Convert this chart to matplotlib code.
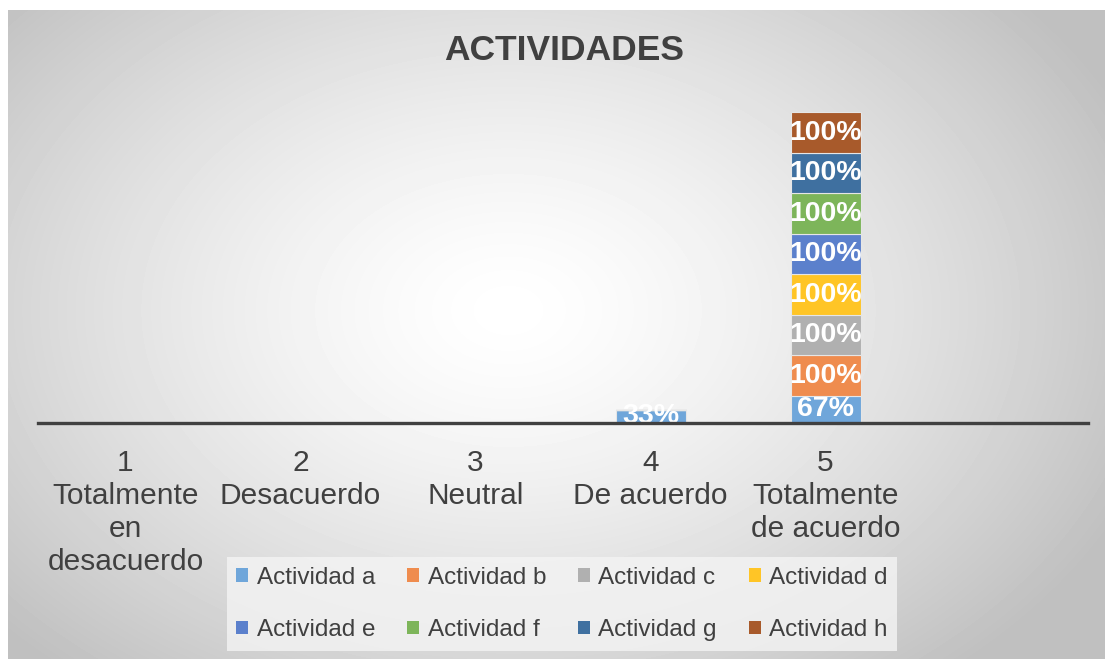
import matplotlib.pyplot as plt
import numpy as np

plt.rcParams['font.family'] = ['Liberation Sans', 'DejaVu Sans']

# Survey response scale (last slot left empty)
categories = ['1\nTotalmente\nen\ndesacuerdo', '2\nDesacuerdo', '3\nNeutral',
              '4\nDe acuerdo', '5\nTotalmente\nde acuerdo', '']

series_names = ['Actividad a', 'Actividad b', 'Actividad c', 'Actividad d',
                'Actividad e', 'Actividad f', 'Actividad g', 'Actividad h']

act_a = [0, 0, 0, 0.33, 0.67, 0]
act_b = [0, 0, 0, 0, 1.00, 0]
act_c = [0, 0, 0, 0, 1.00, 0]
act_d = [0, 0, 0, 0, 1.00, 0]
act_e = [0, 0, 0, 0, 1.00, 0]
act_f = [0, 0, 0, 0, 1.00, 0]
act_g = [0, 0, 0, 0, 1.00, 0]
act_h = [0, 0, 0, 0, 1.00, 0]

series = [act_a, act_b, act_c, act_d, act_e, act_f, act_g, act_h]
colors = ['#6FA6DA', '#EF8C4E', '#B0B0B0', '#FFC526',
          '#5B80CC', '#7DB55A', '#3F70A0', '#A85A2B']
text_color = '#404040'

W, H = 1105, 659
fig = plt.figure(figsize=(W / 100, H / 100), dpi=100)
fig.patch.set_facecolor('white')

# radial gray gradient behind the chart
bg = fig.add_axes([8 / W, 0, 1 - 8 / W, 1 - 10 / H])
yy, xx = np.mgrid[0:649, 0:1097]
cx, cy = 500, 300
r = np.sqrt(((xx - cx) / 680.0) ** 2 + ((yy - cy) / 480.0) ** 2)
r = np.clip(r, 0, 1)
shade = 1.0 - 0.25 * r ** 1.4
bg.imshow(shade, cmap='gray', vmin=0, vmax=1, aspect='auto',
          interpolation='bilinear', extent=[0, 1, 0, 1])
bg.set_axis_off()

ax = fig.add_axes([38 / W, 1 - 423 / H, (1088 - 38) / W, (423 - 99) / H])
ax.set_facecolor('none')

x = np.arange(len(categories))
bottom = np.zeros(len(categories))
for name, vals, col in zip(series_names, series, colors):
    vals = np.array(vals)
    ax.bar(x, vals, width=0.4, bottom=bottom, color=col, label=name,
           edgecolor='#e6e6e6', linewidth=0.8, zorder=2)
    for xi, v, b in zip(x, vals, bottom):
        if v > 0:
            ax.text(xi, b + v / 2, f'{v:.0%}', ha='center', va='center',
                    color='white', fontsize=20.5, fontweight='bold', zorder=3)
    bottom += vals

ax.set_xlim(-0.5, len(categories) - 0.5)
ax.set_ylim(0, 8)
ax.set_yticks([])
ax.set_xticks(x)
ax.set_xticklabels(categories, fontsize=21.5, color=text_color, linespacing=1.22)
ax.tick_params(axis='x', length=0, pad=19)
for side in ['top', 'right', 'left']:
    ax.spines[side].set_visible(False)
ax.spines['bottom'].set_color(text_color)
ax.spines['bottom'].set_linewidth(2.4)
ax.spines['bottom'].set_zorder(5)

fig.text(564 / W, 1 - 50 / H, 'ACTIVIDADES', ha='center', va='center',
         fontsize=25.5, fontweight='bold', color=text_color)

# legend fills row by row: a b c d / e f g h
handles, labels = ax.get_legend_handles_labels()
order = [0, 4, 1, 5, 2, 6, 3, 7]
leg = fig.legend([handles[i] for i in order], [labels[i] for i in order],
                 ncol=4, loc='center',
                 bbox_to_anchor=(562 / W, 1 - 604 / H), fontsize=17.5,
                 frameon=True, fancybox=False, handlelength=0.5,
                 handleheight=0.5, handletextpad=0.35, columnspacing=1.3,
                 labelspacing=1.25, borderpad=0.4, borderaxespad=0)
leg.get_frame().set_facecolor('#f4f4f4')
leg.get_frame().set_alpha(0.8)
leg.get_frame().set_edgecolor('none')
for t in leg.get_texts():
    t.set_color(text_color)
for p in leg.get_patches():
    p.set_edgecolor('none')

fig.savefig('out.png', dpi=100)
